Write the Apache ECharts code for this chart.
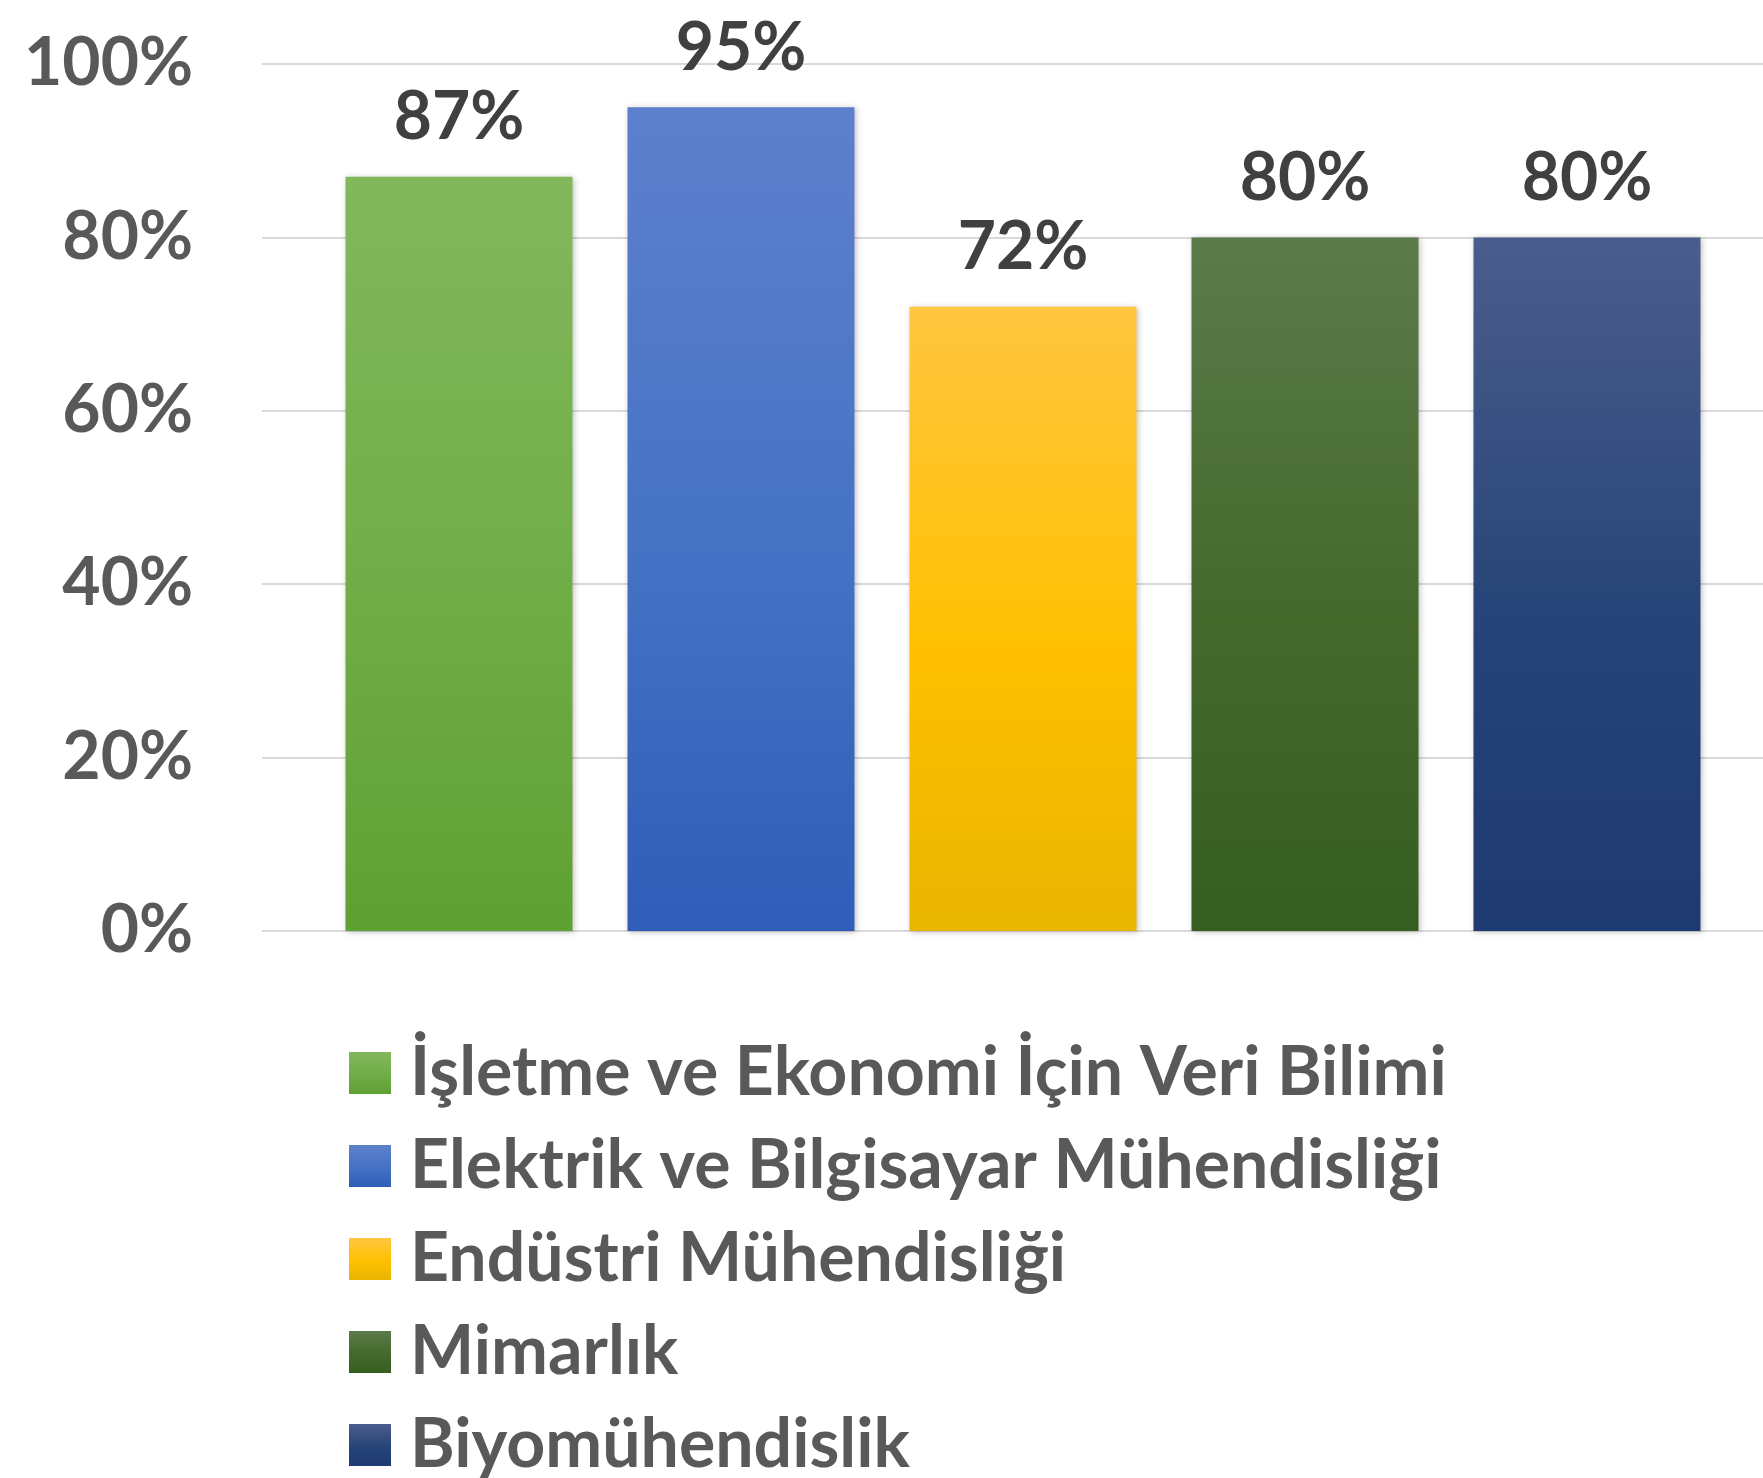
<!DOCTYPE html>
<html><head><meta charset="utf-8">
<script src="https://cdn.jsdelivr.net/npm/echarts@6/dist/echarts.min.js"></script>
<style>html,body{margin:0;padding:0;background:#fff}#c{width:1763px;height:1478px}</style>
</head><body><div id="c"></div>
<script>
const categories = ['İşletme ve Ekonomi İçin Veri Bilimi','Elektrik ve Bilgisayar Mühendisliği','Endüstri Mühendisliği','Mimarlık','Biyomühendislik'];
const values = [87, 95, 72, 80, 80];
const yTicks = [0, 20, 40, 60, 80, 100];
const gradients = [
  ['#82b85c', '#70ad47', '#5fa032'],
  ['#5e80cc', '#4472c4', '#2f5db8'],
  ['#ffc63f', '#ffc000', '#e8b500'],
  ['#5b7b4b', '#44692b', '#365e21'],
  ['#4b5d8c', '#264478', '#1e3a72']
];
const FONT = 'Lato';
const chart = echarts.init(document.getElementById('c'), null, {renderer:'canvas'});
const series = categories.map((name, i) => ({
  name, type: 'bar', xAxisIndex: 1, yAxisIndex: 1, stack: 'all',
  barWidth: 227,
  data: categories.map((_, j) => j === i ? values[i] : '-'),
  itemStyle: {
    color: new echarts.graphic.LinearGradient(0, 0, 0, 1, [
      {offset: 0, color: gradients[i][0]},
      {offset: 0.55, color: gradients[i][1]},
      {offset: 1, color: gradients[i][2]}
    ]),
    shadowBlur: 6, shadowColor: 'rgba(0,0,0,0.25)', shadowOffsetX: 1, shadowOffsetY: 1
  },
  label: {
    show: true, position: 'top', distance: 26,
    formatter: p => p.value + '%',
    fontFamily: FONT, fontWeight: 'bold', fontSize: 66, color: '#404040'
  }
}));
chart.setOption({
  animation: false,
  backgroundColor: '#ffffff',
  grid: [
    {left: 262, right: 0, top: 64, bottom: 547},
    {left: 318, right: 35, top: 64, bottom: 547}
  ],
  xAxis: [
    {gridIndex: 0, type: 'category', data: [''], show: false},
    {gridIndex: 1, type: 'category', data: categories, show: false}
  ],
  yAxis: [
    {gridIndex: 0, type: 'value', min: yTicks[0], max: yTicks[yTicks.length-1], interval: 20,
     axisLine: {show: false}, axisTick: {show: false},
     splitLine: {lineStyle: {color: '#d9d9d9', width: 2}},
     axisLabel: {formatter: v => v + '%', margin: 69, fontFamily: FONT, fontWeight: 'bold', fontSize: 66, color: '#595959'}},
    {gridIndex: 1, type: 'value', min: yTicks[0], max: yTicks[yTicks.length-1], interval: 20, show: false, splitLine: {show: false}}
  ],
  legend: {
    orient: 'vertical', left: 349, top: 1038, height: 520, padding: 0,
    itemWidth: 42, itemHeight: 42, itemGap: 23,
    icon: 'rect',
    textStyle: {fontFamily: FONT, fontWeight: 'bold', fontSize: 68, color: '#595959', lineHeight: 70, padding: [0,0,0,14]},
    data: categories
  },
  series
});
</script></body></html>
